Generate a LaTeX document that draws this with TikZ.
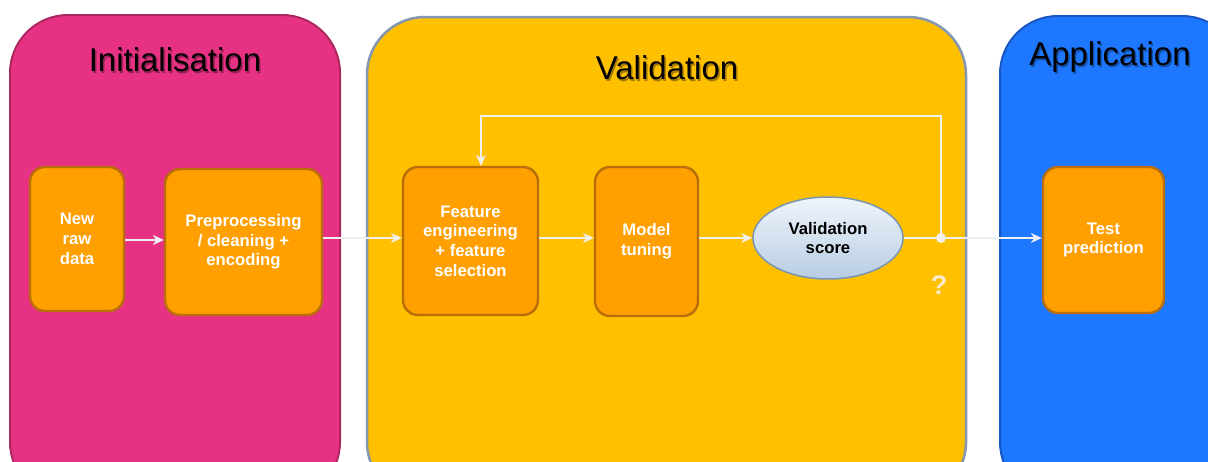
\documentclass[tikz,border=0pt]{standalone}
\usepackage{fontspec}
\setmainfont{Liberation Sans}
\usetikzlibrary{shapes.geometric,arrows.meta}
\definecolor{pinkfill}{RGB}{231,50,131}
\definecolor{pinkedge}{RGB}{170,40,95}
\definecolor{yelfill}{RGB}{255,192,0}
\definecolor{yeledge}{RGB}{132,151,176}
\definecolor{bluefill}{RGB}{30,120,255}
\definecolor{blueedge}{RGB}{25,85,195}
\definecolor{boxfill}{RGB}{255,159,0}
\definecolor{boxedge}{RGB}{185,110,10}
\definecolor{arrowc}{RGB}{240,240,240}
\definecolor{elltop}{RGB}{240,245,251}
\definecolor{ellbot}{RGB}{184,204,228}
\definecolor{elledge}{RGB}{120,150,180}
\definecolor{qcol}{RGB}{250,236,205}
\tikzset{
  panel/.style={line width=2pt, rounded corners=58pt},
  proc/.style={draw=boxedge, fill=boxfill, line width=2.4pt, rounded corners=15pt,
    text=white, font=\bfseries\fontsize{16.7}{19.7}\selectfont, align=center, inner sep=0pt},
  flow/.style={draw=arrowc, line width=1.4pt, -{Stealth[length=11pt,width=10pt]}},
  plain/.style={draw=arrowc, line width=1.4pt},
  ttl/.style={font=\fontsize{33}{36}\selectfont, text=black},
  ttlsh/.style={font=\fontsize{33}{36}\selectfont, text=black, opacity=0.35},
}
\begin{document}
\begin{tikzpicture}[x=1pt,y=-1pt]
\useasboundingbox (0,0) rectangle (1208,461);
\clip (0,0) rectangle (1208,461);
\fill[white] (0,0) rectangle (1208,461);
% panels
\draw[panel, draw=pinkedge, fill=pinkfill] (10,15) rectangle (340,500);
\draw[panel, draw=yeledge, fill=yelfill, line width=2.5pt] (367,17) rectangle (966,500);
\draw[panel, draw=blueedge, fill=bluefill] (1000,16) rectangle (1240,500);
% titles
\node[ttlsh] at (176.5,61.5) {Initialisation};
\node[ttl] (tinit) at (175,60) {Initialisation};
\node[ttlsh] at (668.5,69.5) {Validation};
\node[ttl] (tval) at (667,68) {Validation};
\node[ttlsh] at (1111.5,58.5) {Application};
\node[ttl] (tapp) at (1110,57) {Application};
% boxes
\node[proc, minimum width=94pt, minimum height=144pt] (raw) at (77,239) {New\\raw\\data};
\node[proc, minimum width=157pt, minimum height=146pt] (pre) at (243.5,242) {Preprocessing\\/ cleaning +\\encoding};
\node[proc, minimum width=135pt, minimum height=148pt] (feat) at (470.5,241) {Feature\\engineering\\+ feature\\selection};
\node[proc, minimum width=103pt, minimum height=149pt] (model) at (646.5,241.5) {Model\\tuning};
\node[ellipse, draw=elledge, line width=1.5pt, top color=elltop, bottom color=ellbot,
  minimum width=150pt, minimum height=82pt, inner sep=0pt, align=center,
  font=\bfseries\fontsize{16.7}{19.7}\selectfont] (score) at (828,238) {Validation\\score};
\node[proc, minimum width=121pt, minimum height=146pt] (test) at (1103.5,240) {Test\\prediction};
\node[circle, fill=arrowc, minimum size=10pt, inner sep=0pt] (dot) at (941,238) {};
\coordinate (fb) at (481,116);
\node[text=qcol, font=\bfseries\fontsize{27}{30}\selectfont] (q) at (939,285) {?};
% connectors
\draw[flow] (raw.east |- 0,240) -- (pre.west |- 0,240);
\draw[flow] (pre.east |- 0,238) -- (feat.west |- 0,238);
\draw[flow] (feat.east |- 0,238) -- (model.west |- 0,238);
\draw[flow] (model.east |- 0,238) -- (score.west);
\draw[plain] (score.east) -- (dot.center);
\draw[flow] (dot.center) -- (dot.center |- fb) -- (fb) -- (fb |- feat.north);
\draw[flow] (dot.center) -- (test.west |- dot.center);
\end{tikzpicture}
\end{document}
